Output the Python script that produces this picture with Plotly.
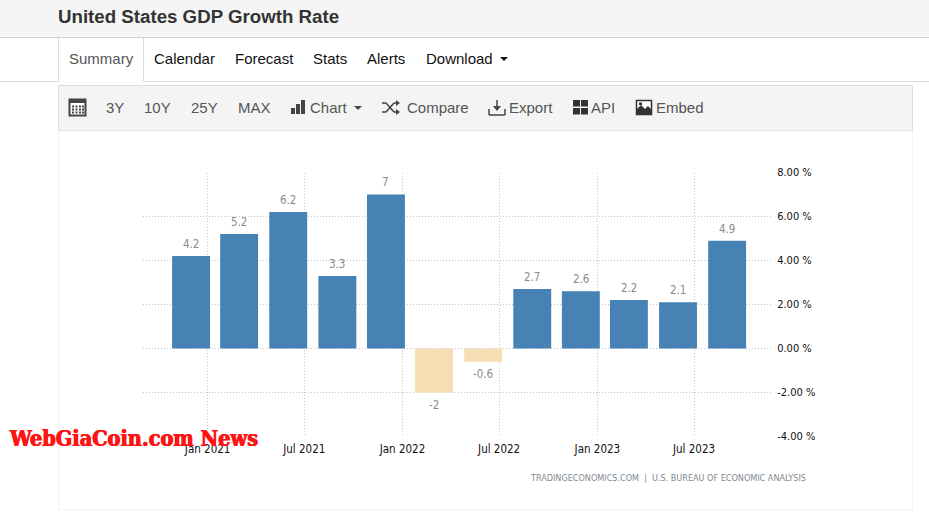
import plotly.graph_objects as go

W, H = 929, 516

# ---- data ----
quarters = ["2020-12-01", "2021-03-01", "2021-06-01", "2021-09-01", "2021-12-01", "2022-03-01",
            "2022-06-01", "2022-09-01", "2022-12-01", "2023-03-01", "2023-06-01", "2023-09-01"]
growth = [4.2, 5.2, 6.2, 3.3, 7, -2, -0.6, 2.7, 2.6, 2.2, 2.1, 4.9]
x_ticks = ["2021-01-01", "2021-07-01", "2022-01-01", "2022-07-01", "2023-01-01", "2023-07-01"]
x_tick_labels = ["Jan 2021", "Jul 2021", "Jan 2022", "Jul 2022", "Jan 2023", "Jul 2023"]
y_ticks = [-4, -2, 0, 2, 4, 6, 8]
title = "United States GDP Growth Rate"
tabs = [("Summary", 69, "#555555"), ("Calendar", 154, "#111111"), ("Forecast", 235, "#111111"),
        ("Stats", 313, "#111111"), ("Alerts", 367, "#111111"), ("Download", 426, "#111111")]
tools = [("3Y", 106), ("10Y", 144), ("25Y", 191), ("MAX", 238), ("Chart", 310), ("Compare", 407),
         ("Export", 509), ("API", 591), ("Embed", 656)]
source = "TRADINGECONOMICS.COM  |  U.S. BUREAU OF ECONOMIC ANALYSIS"
watermark = "WebGiaCoin.com News"

POS, NEG = "#4682B4", "#F5DEB3"
GRID = "#c4c4c4"
TICK_FONT = "DejaVu Sans Condensed, DejaVu Sans"


def px(x):
    return x / W


def py(y):
    return 1 - y / H


shapes = []
annotations = []


def rect(x0, y0, x1, y1, fill=None, line=None, lw=1):
    shapes.append(dict(type="rect", xref="paper", yref="paper", x0=px(x0), x1=px(x1), y0=py(y0), y1=py(y1),
                       fillcolor=fill or "rgba(0,0,0,0)", line=dict(color=line or "rgba(0,0,0,0)", width=lw if line else 0),
                       layer="below"))


def seg(x0, y0, x1, y1, color, lw=1):
    shapes.append(dict(type="line", xref="paper", yref="paper", x0=px(x0), x1=px(x1), y0=py(y0), y1=py(y1),
                       line=dict(color=color, width=lw), layer="below"))


def poly(points, fill):
    d = "M " + " L ".join(f"{px(a):.5f},{py(b):.5f}" for a, b in points) + " Z"
    shapes.append(dict(type="path", xref="paper", yref="paper", path=d, fillcolor=fill,
                       line=dict(width=0), layer="below"))


def label(x, y, text, size, color, family="Liberation Sans", anchor="left", bold=False, shadow=None):
    font = dict(size=size, color=color, family=family)
    if shadow:
        font["shadow"] = shadow
    annotations.append(dict(xref="paper", yref="paper", x=px(x), y=py(y), text=f"<b>{text}</b>" if bold else text,
                            showarrow=False, xanchor=anchor, yanchor="middle", borderpad=0, borderwidth=0,
                            font=font))


# page chrome
rect(0, 0, W, 37.5, fill="#f5f5f5")
seg(0, 37.5, W, 37.5, "#d4d4d4")
seg(0, 81.5, W, 81.5, "#dddddd")
rect(58.5, 38, 143.5, 82, fill="white")
seg(58.5, 38, 58.5, 82, "#dddddd")
seg(143.5, 38, 143.5, 81, "#dddddd")
rect(58.5, 85.5, 912.5, 130.5, fill="#f4f4f4", line="#dddddd")
rect(58.5, 131, 912.5, 509.5, fill="white", line="#f3f3f3")

label(58, 16, title, 18.7, "#333333", bold=True)
for name, x, col in tabs:
    label(x, 59, name, 15, col)
poly([(500, 57), (508, 57), (504, 61)], "#111111")
for name, x in tools:
    label(x, 107.5, name, 15, "#555555")
poly([(354, 106), (362, 106), (358, 110)], "#444444")

# toolbar icons
ICON = "#444444"
rect(69.5, 99.5, 85.5, 115.5, fill="#ffffff", line=ICON, lw=2)
rect(69.5, 99.5, 85.5, 103, fill=ICON)
for gx in (72, 75.5, 79, 82):
    for gy in (105.5, 108.5, 111.5):
        rect(gx, gy, gx + 2, gy + 2, fill=ICON)
rect(291, 108, 295, 114, fill=ICON)
rect(296, 104, 300, 114, fill=ICON)
rect(301, 100, 305, 114, fill=ICON)
seg(382, 103, 386, 103, ICON, 1.5)
seg(386, 103, 394, 112, ICON, 1.5)
seg(394, 112, 398, 112, ICON, 1.5)
seg(382, 112, 386, 112, ICON, 1.5)
seg(386, 112, 394, 103, ICON, 1.5)
seg(394, 103, 398, 103, ICON, 1.5)
poly([(396, 100), (400, 103), (396, 106)], ICON)
poly([(396, 109), (400, 112), (396, 115)], ICON)
seg(497, 100, 497, 110, ICON, 1.5)
poly([(493, 106), (501, 106), (497, 111)], ICON)
seg(489, 109, 489, 115, ICON, 1.5)
seg(489, 115, 505, 115, ICON, 1.5)
seg(505, 115, 505, 109, ICON, 1.5)
for gx in (573, 581):
    for gy in (100, 108):
        rect(gx, gy, gx + 7, gy + 6.5, fill="#333333")
rect(636.5, 100.5, 651.5, 114.5, fill="#ffffff", line="#333333", lw=1.5)
poly([(637, 114), (637, 109), (641, 105), (645, 109), (648, 106), (651, 109), (651, 114)], "#333333")
rect(639, 102.5, 642, 105, fill="#333333")

# value labels, placed by the axes and offset a fixed number of pixels from the bar end
for q, v in zip(quarters, growth):
    annotations.append(dict(xref="x", yref="y", x=q, y=v, text=f"{v:g}", showarrow=False,
                            xanchor="center", yanchor="middle", yshift=12 if v >= 0 else -12,
                            borderpad=0, font=dict(size=11.5, color="#8a8a8a", family=TICK_FONT)))

# source + watermark (top layer text)
label(806, 478, source.replace(" ", "&nbsp;"), 9, "#808890", family=TICK_FONT, anchor="right")
label(9, 438, watermark, 21.5, "#ff1414", family="DejaVu Serif Condensed, DejaVu Serif", bold=True,
      shadow="0.5px 0 #ff1414, -0.5px 0 #ff1414")

colors = [POS if v >= 0 else NEG for v in growth]
bar_days = 71

fig = go.Figure(go.Bar(
    x=quarters, y=growth, width=bar_days * 86400000,
    marker=dict(color=colors, line=dict(width=0)),
))
fig.update_layout(
    width=W, height=H, autosize=False, margin=dict(l=0, r=0, t=0, b=0, autoexpand=False), showlegend=False,
    paper_bgcolor="white", plot_bgcolor="rgba(0,0,0,0)", shapes=shapes, annotations=annotations,
    xaxis=dict(domain=[px(143), px(772)], type="date", range=["2020-09-02", "2023-11-24"],
               tickmode="array", tickvals=x_ticks, ticktext=x_tick_labels,
               showgrid=True, gridcolor=GRID, griddash="1px,2px", gridwidth=1, showline=False, zeroline=False,
               ticks="outside", ticklen=2, tickcolor="rgba(0,0,0,0)",
               tickfont=dict(size=11.5, color="#111111", family=TICK_FONT)),
    yaxis=dict(domain=[py(436.5), py(172.5)], range=[-4, 8], side="right", anchor="x",
               tickmode="array", tickvals=y_ticks, ticktext=[f"{v:.2f} %" for v in y_ticks],
               showgrid=True, gridcolor=GRID, griddash="1px,2px", gridwidth=1, showline=False, zeroline=False,
               ticks="outside", ticklen=2, tickcolor="rgba(0,0,0,0)",
               tickfont=dict(size=11, color="#111111", family=TICK_FONT)),
)
fig.write_html("out.html", config={"displayModeBar": False},
               post_script="document.body.style.margin='0';document.body.style.overflow='hidden';")
